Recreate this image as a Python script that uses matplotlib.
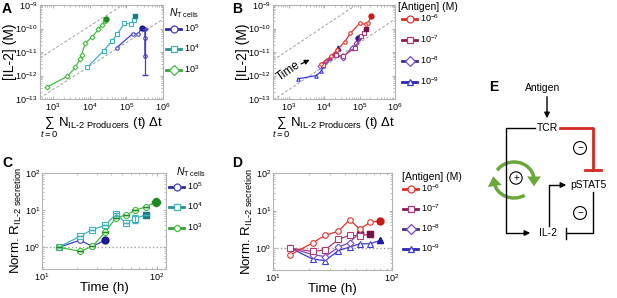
import matplotlib
matplotlib.use('Agg')
import matplotlib.pyplot as plt
from matplotlib.lines import Line2D
from matplotlib.patches import Arc
from matplotlib.ticker import NullFormatter
import numpy as np

plt.rcParams.update({
    'font.family': 'Liberation Sans', 'font.size': 8,
    'mathtext.fontset': 'custom', 'mathtext.rm': 'Liberation Sans',
    'mathtext.it': 'Liberation Sans:italic', 'mathtext.bf': 'Liberation Sans:bold',
    'axes.edgecolor': '#b4b4b4', 'axes.linewidth': 0.8,
    'xtick.direction': 'in', 'ytick.direction': 'in',
    'xtick.top': True, 'ytick.right': True,
    'xtick.color': '#b4b4b4', 'ytick.color': '#b4b4b4',
    'xtick.labelcolor': 'black', 'ytick.labelcolor': 'black',
    'xtick.labelsize': 6.5, 'ytick.labelsize': 6.5,
    'xtick.major.size': 2.5, 'ytick.major.size': 2.5,
    'xtick.minor.size': 1.3, 'ytick.minor.size': 1.3,
    'xtick.major.pad': 2, 'ytick.major.pad': 1.5,
})

# ---- panel A: [IL-2] vs cumulated IL-2 producers, by number of T cells
a_labels = ['$10^{5}$', '$10^{4}$', '$10^{3}$']
a_x_1e5 = [5.5e4, 1.48e5, 2.1e5, 2.6e5, 3.2e5, 3.2e5, 3.2e5]
a_y_1e5 = [1.55e-11, 5.9e-11, 5.75e-11, 1.1e-10, 9.5e-11, 4.0e-11, 6.9e-12]
a_x_1e4 = [8500, 24500, 40700, 56200, 89100, 134900, 158500, 173800]
a_y_1e4 = [2.2e-12, 1.15e-11, 2.95e-11, 5.75e-11, 1.66e-10, 1.55e-10, 2.3e-10, 3.5e-10]
a_x_1e3 = [676, 2450, 4070, 5500, 6030, 7590, 11700, 17400, 21900, 25700, 28800]
a_y_1e3 = [3.2e-13, 9.1e-13, 2.2e-12, 5.1e-12, 7.6e-12, 2.4e-11, 4.3e-11, 9.3e-11,
           1.4e-10, 2.1e-10, 2.6e-10]
a_err_lo = [1.1e-12]   # spread of the late 10^5 point
a_err_hi = [1.0e-10]

# ---- panel B: same, by antigen concentration
b_labels = ['$10^{-6}$', '$10^{-7}$', '$10^{-8}$', '$10^{-9}$']
b_x_6 = [8300, 15100, 23400, 38000, 55000, 100000, 148000, 170000, 214000]
b_y_6 = [3.1e-12, 6.5e-12, 1.23e-11, 2.75e-11, 6.3e-11, 1.66e-10, 1.5e-10, 1.66e-10, 3.5e-10]
b_x_7 = [9300, 21900, 33900, 72400, 112000, 129000, 148000]
b_y_7 = [2.9e-12, 7.6e-12, 6.5e-12, 1.5e-11, 4.6e-11, 6.5e-11, 1.0e-10]
b_x_8 = [7400, 11500, 20000, 33900, 58900, 81300, 89100]
b_y_8 = [2.5e-12, 4.0e-12, 8.1e-12, 5.5e-12, 1.5e-11, 2.4e-11, 3.9e-11]
b_x_9 = [1800, 5750, 8300, 9300, 14100, 21900, 24500]
b_y_9 = [7.2e-13, 9.8e-13, 1.5e-12, 2.5e-12, 5.5e-12, 1.05e-11, 1.5e-11]

# reference diagonals [IL-2] = k * sum (log10 k)
guide_k = [-13.9, -15.6]

# ---- panel C: normalised IL-2 secretion rate vs time
times = [14, 21.5, 27.5, 35.5, 44, 53.5, 65, 80, 99]
c_1e5 = [1.0, 1.55, 1.05, 1.58]
c_1e4 = [1.0, 2.0, 3.0, 3.9, 7.8, 4.6, 5.9, 7.6]
c_1e3 = [1.0, 0.78, 1.06, 2.55, 6.3, 7.3, 10.0, 12.2, 17.0]
c_1e4_err = [0, 0, 0, 0, 0.7, 0, 1.5, 0]
c_1e3_err = [0, 0, 0, 0, 0, 0, 0, 0, 3.0]

# ---- panel D: same, by antigen concentration
d_6 = [0.66, 1.37, 2.2, 2.8, 5.7, 3.2, 4.8, 5.3]
d_7 = [1.0, 0.81, 0.9, 1.7, 2.2, 2.1, 2.36]
d_8 = [1.0, 0.67, 0.59, 1.06, 1.4, 2.56]
d_9 = [1.0, 0.51, 0.46, 0.86, 1.06, 1.3, 1.3, 1.6]

COL_N = {'1e5': ('#4040c8', '#1c1c90', '#2b2ba8'),   # line, filled end, legend line
         '1e4': ('#3cb4bc', '#1a7e7e', '#2a8f8f'),
         '1e3': ('#3fbf3f', '#1f8a1f', '#3aa03a')}
COL_AG = {'6': ('#e8302a', '#c81a14', '#e02a24'),
          '7': ('#b23a7a', '#7a1048', '#8a1a52'),
          '8': ('#7a4ac8', '#3a1a80', '#4a2a90'),
          '9': ('#3a3ae0', '#1a1aa8', '#2a2ab0')}

W, H = 617, 298
fig = plt.figure(figsize=(W / 100, H / 100), dpi=100)

# overlay in pixel coordinates (panel letters, legend anchors, diagram E)
ov = fig.add_axes([0, 0, 1, 1], zorder=-1)
ov.set_xlim(0, W); ov.set_ylim(H, 0); ov.axis('off')


def px_axes(l, t, r, b):
    ax = fig.add_axes([l / W, 1 - b / H, (r - l) / W, (b - t) / H])
    ax.set_xscale('log'); ax.set_yscale('log')
    return ax


def finish(ax):
    ax.xaxis.set_minor_formatter(NullFormatter())
    ax.yaxis.set_minor_formatter(NullFormatter())


def traj(ax, x, y, cols, mk, ms, ifill=-1, lw=0.9):
    ax.plot(x, y, color=cols[0], lw=lw, marker=mk, ms=ms, mfc='white', mec=cols[0], mew=0.8)
    ax.plot(x[ifill], y[ifill], marker=mk if mk != 'D' else 'o', ms=ms + 1, color=cols[1], ls='none')


def legend(ax, cols, mks, labels, title, tpos, epos, spacing):
    ov.text(tpos[0], tpos[1], title, fontsize=7.5, ha='left', va='center')
    hs = [Line2D([], [], color=c[2], lw=2, marker=m, ms=5, mfc='white', mec=c[0], mew=0.9)
          for c, m in zip(cols, mks)]
    ax.legend(hs, labels, loc='upper left', bbox_to_anchor=epos, bbox_transform=ov.transData,
              frameon=False, fontsize=6.5, handlelength=1.7, handletextpad=0.3,
              labelspacing=spacing, borderaxespad=0, borderpad=0)


def guides(ax):
    xs = np.array(ax.get_xlim())
    for k in guide_k:
        ax.plot(xs, xs * 10 ** k, ls=(0, (3, 2)), color='#a0a0a0', lw=0.7, zorder=0)
    ax.set_xlim(xs)


sum_label = r'$\sum_{t=0}\,\mathrm{N}_{\text{IL-2 Producers}}\ \mathrm{(t)\ \Delta t}$'
norm_label = r'Norm. R$_{\text{IL-2 secretion}}$'
nt_title = r'$N_{\text{T cells}}$'

# A
ax = px_axes(40, 5, 163, 99)
ax.set_xlim(443, 1e6); ax.set_ylim(1e-13, 1e-9)
guides(ax)
traj(ax, a_x_1e3, a_y_1e3, COL_N['1e3'], 'D', 2.5)
traj(ax, a_x_1e4, a_y_1e4, COL_N['1e4'], 's', 2.5)
traj(ax, a_x_1e5, a_y_1e5, COL_N['1e5'], 'o', 2.5, ifill=3)
yv = a_y_1e5[5]
ax.errorbar([a_x_1e5[5]], [yv], yerr=[[yv - a_err_lo[0]], [a_err_hi[0] - yv]],
            color=COL_N['1e5'][0], lw=0.9, capsize=2.5, fmt='none')
ax.set_ylabel('[IL-2] (M)', fontsize=10, labelpad=-1)
ax.set_xlabel(sum_label, fontsize=9.5, labelpad=1.5)
legend(ax, [COL_N['1e5'], COL_N['1e4'], COL_N['1e3']], ['o', 's', 'D'], a_labels,
       nt_title, (169, 13), (166, 22), 1.0)
finish(ax)

# B
ax = px_axes(273, 5, 395, 99)
ax.set_xlim(355, 1e6); ax.set_ylim(1e-13, 1e-9)
guides(ax)
traj(ax, b_x_9, b_y_9, COL_AG['9'], '^', 2.5)
traj(ax, b_x_8, b_y_8, COL_AG['8'], 'D', 2.5)
traj(ax, b_x_7, b_y_7, COL_AG['7'], 's', 2.5)
traj(ax, b_x_6, b_y_6, COL_AG['6'], 'o', 2.5)
ax.text(0.13, 0.30, 'Time', rotation=35, fontsize=8.5, transform=ax.transAxes,
        ha='center', va='center')
ax.annotate('', xy=(0.32, 0.43), xytext=(0.21, 0.36), xycoords='axes fraction',
            arrowprops=dict(arrowstyle='-|>', color='black', lw=0.9, mutation_scale=7))
ax.set_ylabel('[IL-2] (M)', fontsize=10, labelpad=-1)
ax.set_xlabel(sum_label, fontsize=9.5, labelpad=1.5)
legend(ax, [COL_AG['6'], COL_AG['7'], COL_AG['8'], COL_AG['9']], ['o', 's', 'D', '^'],
       b_labels, '[Antigen] (M)', (398, 7), (402, 12), 1.05)
finish(ax)

# C
ax = px_axes(42, 173, 166, 269)
ax.set_xlim(10, 120); ax.set_ylim(0.26, 100)
ax.axhline(1, color='#a0a0a0', ls=':', lw=1, zorder=0)
traj(ax, times[:len(c_1e5)], c_1e5, COL_N['1e5'], 'o', 4)
traj(ax, times[:len(c_1e4)], c_1e4, COL_N['1e4'], 's', 4)
traj(ax, times[:len(c_1e3)], c_1e3, COL_N['1e3'], '8', 4.5)
ax.errorbar(times[:len(c_1e4)], c_1e4, yerr=c_1e4_err, color=COL_N['1e4'][0],
            lw=0.8, capsize=2, fmt='none')
ax.errorbar(times[:len(c_1e3)], c_1e3, yerr=c_1e3_err, color=COL_N['1e3'][1],
            lw=0.8, capsize=2, fmt='none')
ax.set_ylabel(norm_label, fontsize=9.5, labelpad=0.5)
ax.set_xlabel('Time (h)', fontsize=9.5, labelpad=-1)
legend(ax, [COL_N['1e5'], COL_N['1e4'], COL_N['1e3']], ['o', 's', '8'], a_labels,
       nt_title, (176, 172), (169, 180), 1.0)
finish(ax)

# D
ax = px_axes(273, 173, 392, 270)
ax.set_xlim(10, 100); ax.set_ylim(0.26, 100)
ax.axhline(1, color='#a0a0a0', ls=':', lw=1, zorder=0)
traj(ax, times[:len(d_9)], d_9, COL_AG['9'], '^', 4)
traj(ax, times[:len(d_8)], d_8, COL_AG['8'], 'D', 3.5)
traj(ax, times[:len(d_7)], d_7, COL_AG['7'], 's', 4)
traj(ax, times[:len(d_6)], d_6, COL_AG['6'], 'o', 4)
ax.set_ylabel(norm_label, fontsize=9.5, labelpad=0.5)
ax.set_xlabel('Time (h)', fontsize=9.5, labelpad=-1)
legend(ax, [COL_AG['6'], COL_AG['7'], COL_AG['8'], COL_AG['9']], ['o', 's', 'D', '^'],
       b_labels, '[Antigen] (M)', (402, 177), (403, 182), 0.92)
finish(ax)

# ---- panel letters
for s, (x, y) in zip('ABCDE', [(7, 9), (237, 9), (7, 163), (237, 163), (494, 87)]):
    ov.text(x, y, s, fontsize=10, fontweight='bold', ha='center', va='center')

# ---- diagram E
RED, GREEN = '#d42a20', '#6aa83a'
fs = 7.5
ov.text(543, 88, 'Antigen', fontsize=fs, ha='center', va='center')
ov.annotate('', xy=(547, 121), xytext=(547, 94),
            arrowprops=dict(arrowstyle='-|>', color='black', lw=1, mutation_scale=8))
ov.text(547, 128, 'TCR', fontsize=fs, ha='center', va='center')
ov.text(548, 233, 'IL-2', fontsize=fs, ha='center', va='center')
ov.text(588, 185, 'pSTAT5', fontsize=fs, ha='center', va='center')
# TCR -> IL-2 (left loop)
ov.plot([535, 506, 506, 524], [128, 128, 233, 233], color='black', lw=1)
ov.annotate('', xy=(533, 233), xytext=(522, 233),
            arrowprops=dict(arrowstyle='-|>', color='black', lw=1, mutation_scale=8))
# TCR -| pSTAT5
ov.plot([560, 593, 593], [128, 128, 170], color=RED, lw=2)
ov.plot([585, 601], [170, 170], color=RED, lw=2)
# IL-2 -> pSTAT5
ov.plot([549, 549, 562], [226, 185, 185], color='black', lw=1)
ov.annotate('', xy=(569, 185), xytext=(560, 185),
            arrowprops=dict(arrowstyle='-|>', color='black', lw=1, mutation_scale=8))
# pSTAT5 -| IL-2
ov.plot([593, 593, 566], [192, 233, 233], color='black', lw=1)
ov.plot([566, 566], [228, 239], color='black', lw=1)
for y in (148, 213):
    ov.text(580, y, '\u2212', fontsize=7, ha='center', va='center',
            bbox=dict(boxstyle='circle,pad=0.15', fc='white', ec='black', lw=0.8))
ov.text(516, 178, '+', fontsize=7, ha='center', va='center',
        bbox=dict(boxstyle='circle,pad=0.12', fc='white', ec='black', lw=0.8))
# positive feedback ring
cx, cy, rx, ry = 514, 180, 20, 18
for t1, t2 in [(210, 360), (55, 172)]:
    ov.add_patch(Arc((cx, cy), 2 * rx, 2 * ry, theta1=t1, theta2=t2, color=GREEN, lw=2.5))
    te = np.radians(t2)
    p0 = (cx + rx * np.cos(te), cy + ry * np.sin(te))
    p1 = (p0[0] - rx * np.sin(te) * 0.5, p0[1] + ry * np.cos(te) * 0.5)
    ov.annotate('', xy=p1, xytext=p0,
                arrowprops=dict(arrowstyle='-|>,head_width=0.5,head_length=0.7',
                                color=GREEN, lw=0, mutation_scale=10))

fig.savefig('out.png', dpi=100)
